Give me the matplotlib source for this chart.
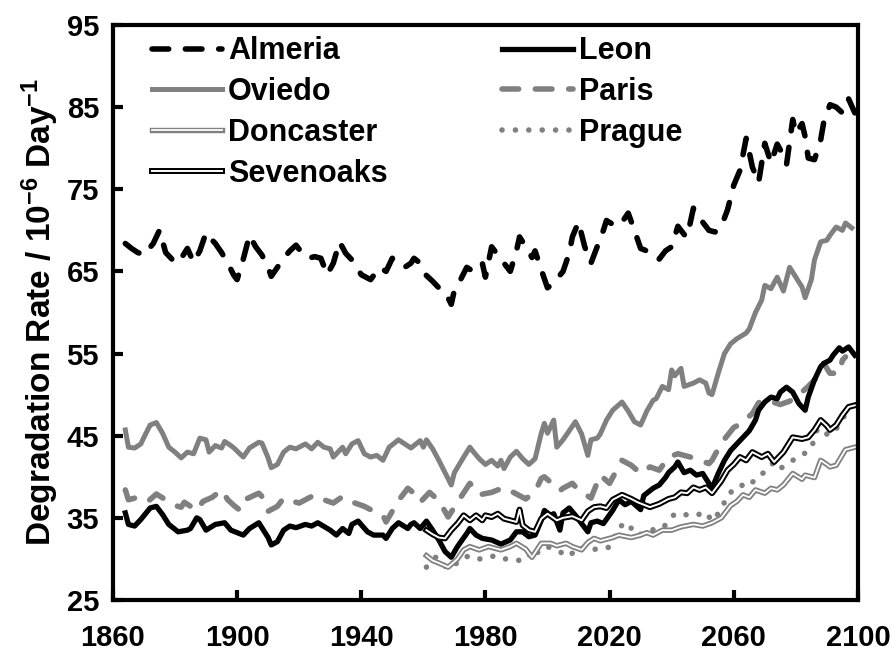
import matplotlib
matplotlib.use("Agg")
import matplotlib.pyplot as plt
import matplotlib.patheffects as pe

plt.rcParams["font.family"] = "Liberation Sans"
plt.rcParams["font.weight"] = "bold"
plt.rcParams["axes.labelweight"] = "bold"
plt.rcParams["mathtext.fontset"] = "custom"
plt.rcParams["mathtext.rm"] = "Liberation Sans:bold"
plt.rcParams["mathtext.it"] = "Liberation Sans:bold"
plt.rcParams["mathtext.bf"] = "Liberation Sans:bold"
plt.rcParams["axes.unicode_minus"] = False

# values
almeria_years = [1864, 1866, 1868, 1870, 1873, 1875, 1877, 1879, 1880, 1882, 1884, 1886, 1888,
                 1890, 1891, 1893, 1895, 1897, 1899, 1900, 1902, 1904, 1906, 1908, 1910, 1911,
                 1913, 1915, 1917, 1919, 1921, 1923, 1925, 1927, 1929, 1931, 1933, 1935, 1937,
                 1940, 1943, 1946, 1948, 1950, 1952, 1954, 1956, 1957, 1959, 1961, 1963, 1965,
                 1967, 1969, 1970, 1972, 1974, 1976, 1979, 1980, 1982, 1984, 1986, 1988, 1990,
                 1991, 1993, 1995, 1996, 1998, 2000, 2002, 2005, 2007, 2008, 2010, 2012, 2014,
                 2016, 2018, 2019, 2022, 2024, 2026, 2028, 2030, 2032, 2034, 2036, 2038, 2040,
                 2042, 2044, 2045, 2047, 2049, 2052, 2054, 2056, 2058, 2060, 2062, 2064, 2065,
                 2066, 2068, 2070, 2072, 2074, 2075, 2077, 2079, 2080, 2082, 2083, 2084, 2086,
                 2088, 2089, 2091, 2093, 2095, 2097, 2099]
almeria = [68.4, 67.8, 67.3, 67.0, 68.4, 70.0, 67.3, 66.5, 66.0, 66.6, 67.8, 66.1, 67.5,
           69.7, 69.2, 68.4, 67.3, 66.0, 64.5, 64.0, 66.5, 69.4, 68.0, 67.0, 65.5, 64.4,
           65.5, 66.6, 67.5, 68.2, 67.2, 66.6, 66.8, 66.6, 64.6, 66.0, 68.6, 67.2, 66.4,
           64.6, 64.0, 65.5, 65.0, 66.6, 66.2, 65.5, 66.0, 66.6, 66.0, 64.5, 63.8, 63.0,
           62.5, 61.0, 62.7, 64.0, 65.5, 65.0, 66.0, 64.3, 68.0, 67.0, 66.0, 65.0, 67.5,
           69.2, 68.0, 66.7, 67.5, 65.2, 63.0, 63.6, 65.0, 67.2, 69.2, 71.0, 68.0, 66.0,
           68.0, 70.0, 71.2, 70.5, 71.0, 72.1, 70.0, 67.8, 67.5, 67.3, 66.5, 67.5, 68.0,
           70.5, 69.5, 69.2, 72.7, 71.5, 70.0, 69.8, 70.5, 72.5, 75.5, 77.3, 81.2, 79.5,
           77.7, 75.8, 80.6, 78.2, 80.5, 79.8, 78.0, 83.5, 81.8, 83.0, 81.4, 78.8, 78.6,
           81.0, 83.2, 85.3, 85.0, 84.3, 86.0, 84.3]

oviedo_years = [1864, 1865, 1867, 1869, 1870, 1872, 1874, 1876, 1878, 1880, 1882, 1884, 1886,
                1888, 1890, 1891, 1893, 1895, 1896, 1898, 1899, 1902, 1904, 1907, 1908, 1910,
                1911, 1913, 1915, 1917, 1919, 1922, 1924, 1926, 1928, 1930, 1931, 1934, 1935,
                1937, 1939, 1941, 1943, 1945, 1947, 1949, 1952, 1954, 1956, 1957, 1959, 1960,
                1961, 1963, 1965, 1967, 1969, 1970, 1973, 1975, 1976, 1978, 1980, 1982, 1984,
                1985, 1986, 1988, 1990, 1992, 1994, 1996, 1998, 1999, 2000, 2002, 2003, 2005,
                2007, 2009, 2011, 2013, 2014, 2016, 2017, 2019, 2021, 2024, 2026, 2028, 2030,
                2032, 2034, 2035, 2037, 2039, 2040, 2041, 2043, 2044, 2047, 2049, 2051, 2052,
                2053, 2055, 2057, 2059, 2061, 2064, 2065, 2067, 2069, 2070, 2072, 2074, 2076,
                2078, 2080, 2082, 2083, 2085, 2086, 2088, 2090, 2091, 2093, 2095, 2096, 2098]
oviedo = [45.7, 43.6, 43.5, 44.0, 44.8, 46.3, 46.6, 45.3, 43.6, 43.0, 42.3, 43.0, 42.8,
          44.7, 44.5, 43.0, 43.8, 43.5, 44.3, 43.8, 43.5, 42.4, 43.5, 44.2, 44.1, 42.3,
          41.1, 41.5, 43.0, 43.6, 43.4, 44.0, 43.4, 44.2, 43.6, 43.4, 42.4, 43.6, 42.8,
          44.0, 44.4, 42.8, 42.4, 42.6, 42.0, 43.6, 44.5, 44.0, 43.5, 43.8, 44.4, 43.6,
          44.5, 43.4, 42.0, 40.5, 39.0, 40.5, 42.4, 43.6, 43.1, 42.2, 41.5, 42.0, 41.3,
          42.0, 41.0, 42.4, 43.1, 42.2, 41.5, 42.2, 45.3, 46.5, 45.3, 46.9, 43.6, 44.5,
          45.6, 46.7, 45.2, 42.6, 44.5, 44.7, 45.2, 46.9, 48.1, 49.1, 48.0, 46.7, 46.3,
          48.0, 49.3, 49.5, 51.0, 50.6, 53.0, 52.3, 53.2, 51.0, 51.4, 51.8, 51.4, 50.2,
          50.0, 52.6, 55.0, 56.2, 56.8, 57.5, 58.0, 60.0, 61.5, 63.3, 62.9, 64.3, 62.6,
          65.5, 64.3, 63.1, 61.8, 64.0, 66.4, 68.6, 68.8, 69.4, 70.4, 70.0, 70.9, 70.3]

paris_years = [1864, 1865, 1867, 1871, 1874, 1877, 1880, 1882, 1883, 1885, 1887, 1889, 1892,
               1895, 1897, 1899, 1901, 1903, 1907, 1908, 1910, 1913, 1915, 1918, 1920, 1925,
               1928, 1931, 1934, 1938, 1941, 1944, 1947, 1948, 1952, 1955, 1957, 1959, 1962,
               1965, 1968, 1971, 1975, 1978, 1982, 1986, 1990, 1993, 1996, 1998, 1999, 2002,
               2004, 2005, 2008, 2010, 2014, 2017, 2020, 2024, 2027, 2030, 2033, 2036, 2039,
               2042, 2046, 2049, 2052, 2053, 2056, 2060, 2062, 2066, 2068, 2070, 2075, 2078,
               2081, 2084, 2088, 2089, 2091, 2094, 2095, 2096]
paris = [38.4, 37.2, 37.4, 36.9, 37.9, 37.2, 36.5, 36.3, 36.9, 36.4, 35.9, 37.0, 37.5,
         38.4, 37.2, 36.5, 35.9, 37.3, 38.0, 37.6, 35.8, 36.4, 37.4, 37.0, 36.8, 37.8,
         37.2, 36.8, 37.6, 36.8, 36.4, 35.8, 35.3, 34.5, 37.1, 38.6, 38.0, 36.9, 38.1,
         37.1, 35.1, 36.9, 39.2, 37.8, 38.1, 38.7, 37.9, 37.3, 38.2, 39.8, 40.0, 39.0,
         38.3, 38.6, 39.2, 38.4, 37.4, 40.2, 39.2, 42.0, 41.4, 40.4, 41.2, 40.8, 42.4,
         42.8, 42.4, 42.0, 41.6, 42.0, 44.1, 46.0, 46.4, 47.7, 49.0, 49.4, 48.8, 49.2,
         50.0, 51.0, 52.6, 53.8, 52.6, 52.6, 54.2, 54.6]

leon_years = [1864, 1865, 1867, 1869, 1872, 1874, 1876, 1878, 1881, 1884, 1885, 1887, 1888,
              1890, 1893, 1896, 1898, 1902, 1904, 1907, 1908, 1910, 1911, 1913, 1915, 1917,
              1919, 1922, 1924, 1926, 1930, 1932, 1934, 1936, 1937, 1939, 1942, 1944, 1947,
              1948, 1950, 1952, 1955, 1956, 1957, 1959, 1961, 1963, 1965, 1967, 1969, 1971,
              1974, 1975, 1977, 1979, 1982, 1985, 1988, 1990, 1992, 1994, 1996, 1998, 1999,
              2001, 2002, 2004, 2005, 2007, 2009, 2011, 2013, 2014, 2016, 2018, 2021, 2023,
              2025, 2027, 2030, 2031, 2034, 2036, 2038, 2039, 2041, 2042, 2044, 2046, 2048,
              2050, 2052, 2053, 2055, 2057, 2059, 2061, 2063, 2065, 2067, 2068, 2070, 2072,
              2074, 2075, 2077, 2079, 2081, 2083, 2084, 2086, 2088, 2089, 2091, 2092, 2094,
              2095, 2097, 2099]
leon = [35.6, 34.2, 34.0, 34.8, 36.2, 36.4, 35.4, 34.2, 33.3, 33.5, 33.7, 35.0, 34.8,
        33.5, 34.2, 34.4, 33.5, 32.9, 33.7, 34.4, 33.8, 32.6, 31.7, 32.1, 33.5, 34.0,
        33.8, 34.2, 34.0, 34.4, 33.5, 32.9, 33.7, 33.1, 34.2, 34.6, 33.3, 32.9, 32.9,
        32.5, 33.7, 34.4, 33.7, 34.2, 34.4, 33.7, 34.6, 33.5, 32.3, 30.9, 30.2, 31.5,
        33.1, 33.7, 32.9, 32.5, 32.3, 31.8, 32.3, 33.3, 33.3, 32.7, 32.9, 34.7, 35.9,
        35.3, 35.5, 33.5, 35.6, 36.2, 35.3, 34.3, 33.3, 34.4, 34.6, 34.3, 35.9, 37.2,
        36.6, 37.0, 36.0, 37.7, 38.6, 39.0, 39.9, 40.5, 41.2, 41.8, 40.5, 40.8, 40.2,
        40.4, 39.2, 38.6, 40.4, 42.0, 43.2, 44.0, 44.8, 45.6, 46.9, 48.1, 49.1, 49.7,
        49.5, 50.3, 50.9, 50.3, 48.9, 48.1, 49.7, 51.8, 53.4, 53.8, 54.2, 54.8, 55.7,
        55.3, 55.8, 54.8]

sevenoaks_years = [1961, 1963, 1965, 1967, 1969, 1971, 1973, 1975, 1977, 1979, 1980, 1982,
                   1984, 1986, 1988, 1990, 1991, 1992, 1994, 1996, 1998, 2000, 2003, 2005,
                   2008, 2011, 2013, 2015, 2017, 2019, 2021, 2024, 2027, 2029, 2031, 2033,
                   2036, 2039, 2041, 2043, 2045, 2047, 2049, 2051, 2053, 2056, 2058, 2060,
                   2062, 2064, 2066, 2069, 2071, 2073, 2076, 2079, 2082, 2084, 2086, 2088,
                   2090, 2091, 2093, 2095, 2097, 2099]
sevenoaks = [33.5, 33.0, 32.6, 32.5, 33.5, 34.3, 35.3, 34.7, 35.3, 34.7, 35.3, 35.1,
             35.5, 34.9, 34.7, 34.5, 36.0, 34.1, 33.5, 33.3, 34.9, 35.5, 34.7, 35.0,
             35.2, 34.7, 35.8, 36.3, 36.4, 36.2, 37.2, 37.8, 37.3, 36.9, 36.6, 36.3,
             36.7, 37.3, 37.5, 38.1, 38.0, 38.7, 38.4, 38.7, 38.0, 39.5, 40.8, 41.5,
             42.4, 42.0, 43.0, 42.4, 42.8, 41.8, 43.0, 44.8, 44.6, 44.8, 45.7, 46.9,
             46.2, 45.7, 46.3, 47.5, 48.5, 48.7]

doncaster_years = [1961, 1963, 1965, 1968, 1971, 1973, 1975, 1978, 1981, 1985, 1988, 1990,
                   1993, 1995, 1998, 2001, 2003, 2006, 2008, 2011, 2013, 2015, 2017, 2019,
                   2021, 2023, 2027, 2030, 2032, 2034, 2037, 2040, 2043, 2047, 2050, 2053,
                   2056, 2059, 2061, 2063, 2065, 2067, 2070, 2072, 2074, 2076, 2079, 2082,
                   2083, 2086, 2088, 2090, 2091, 2093, 2096, 2099]
doncaster = [30.4, 29.8, 29.5, 29.0, 30.0, 31.1, 31.5, 31.1, 31.5, 31.1, 31.5, 31.9,
             31.2, 30.2, 31.9, 31.9, 31.6, 31.9, 31.5, 31.1, 32.0, 32.5, 32.2, 32.4,
             32.6, 32.9, 32.6, 32.9, 33.2, 32.9, 33.5, 33.5, 33.9, 34.2, 34.0, 34.4,
             35.0, 36.5, 37.0, 37.8, 37.5, 38.4, 38.0, 38.6, 38.4, 39.0, 40.4, 39.7,
             40.2, 39.9, 42.0, 41.5, 41.2, 41.4, 43.3, 43.6]

prague_years = [1961, 1964, 1966, 1968, 1970, 1972, 1975, 1978, 1980, 1983, 1986, 1989,
                1991, 1994, 1995, 1998, 2000, 2002, 2005, 2007, 2010, 2012, 2014, 2017,
                2020, 2023, 2026, 2028, 2031, 2033, 2037, 2041, 2043, 2047, 2051, 2053,
                2056, 2058, 2062, 2065, 2067, 2070, 2073, 2075, 2079, 2082, 2085, 2087,
                2090, 2092, 2095, 2097]
prague = [29.0, 30.2, 29.5, 28.8, 29.2, 30.0, 30.4, 30.0, 30.0, 30.4, 30.0, 30.0,
          29.8, 30.6, 30.0, 31.3, 31.5, 31.1, 30.7, 30.3, 31.5, 31.2, 31.0, 31.4,
          31.4, 33.9, 34.4, 33.0, 33.0, 33.5, 33.7, 35.5, 35.5, 35.2, 35.7, 34.6,
          36.0, 37.8, 39.0, 38.8, 39.8, 40.6, 41.8, 41.0, 42.0, 42.6, 43.5, 45.9,
          45.2, 45.2, 47.0, 48.3]

GRAY = "#808080"

fig = plt.figure(figsize=(8.96, 6.56), dpi=100)
ax = fig.add_axes([0.126, 0.0854, 0.8315, 0.8765])

dashed = dict(linestyle=(0, (3, 3)), dash_capstyle="round", lw=4)

l_alm, = ax.plot(almeria_years, almeria, color="black", label="Almeria", **dashed)
l_ovi, = ax.plot(oviedo_years, oviedo, color=GRAY, lw=3.6, label="Oviedo")
l_par, = ax.plot(paris_years, paris, color=GRAY, label="Paris", **dashed)
l_leo, = ax.plot(leon_years, leon, color="black", lw=3.8, label="Leon")
l_pra, = ax.plot(prague_years, prague, color=GRAY, lw=4, linestyle=(0, (0.01, 2.4)),
                 dash_capstyle="round", label="Prague")
l_don, = ax.plot(doncaster_years, doncaster, color="white", lw=1.3, label="Doncaster",
                 path_effects=[pe.Stroke(linewidth=3.9, foreground=GRAY), pe.Normal()])
l_sev, = ax.plot(sevenoaks_years, sevenoaks, color="white", lw=1.4, label="Sevenoaks",
                 path_effects=[pe.Stroke(linewidth=4.3, foreground="black"), pe.Normal()])

ax.set_xlim(1860, 2100)
ax.set_ylim(25, 95)
ax.set_xticks(range(1860, 2101, 40))
ax.set_yticks(range(25, 96, 10))

for s in ax.spines.values():
    s.set_linewidth(3)
ax.tick_params(axis="both", direction="in", length=7, width=3, labelsize=21)
ax.tick_params(axis="x", pad=17)
ax.tick_params(axis="y", pad=10)

ax.set_ylabel("Degradation Rate / 10$^{-6}$ Day$^{-1}$", fontsize=24, labelpad=4)

handles = [l_alm, l_ovi, l_don, l_sev, l_leo, l_par, l_pra]
ax.legend(handles=handles, labels=[h.get_label() for h in handles], ncol=2,
          loc="upper left", bbox_to_anchor=(0.052, 0.98), frameon=False,
          fontsize=22, handlelength=2.3, handletextpad=0.2, labelspacing=0.35,
          columnspacing=3.75, borderpad=0, borderaxespad=0)

fig.savefig("out.png", dpi=100)
